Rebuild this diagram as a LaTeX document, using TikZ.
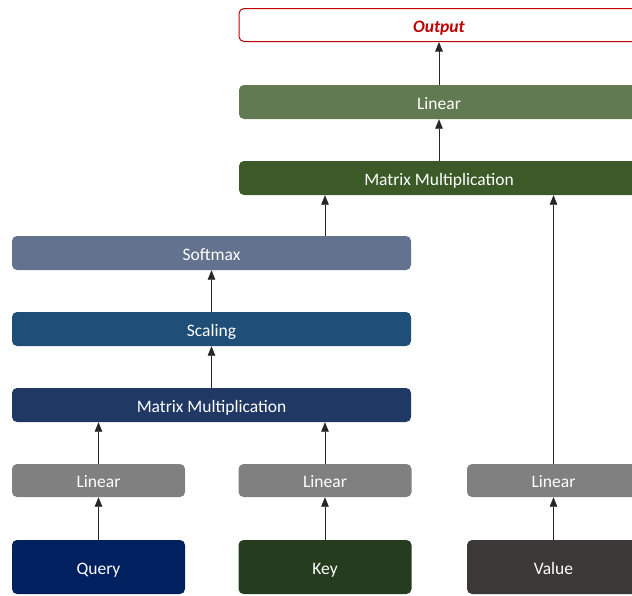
\documentclass[tikz,border=0pt]{standalone}
\usepackage{fontspec}
\setmainfont{Carlito}
\usetikzlibrary{arrows.meta}
\definecolor{cout}{HTML}{C00000}
\definecolor{clin}{HTML}{627A52}
\definecolor{cmmg}{HTML}{3B5A28}
\definecolor{csoft}{HTML}{63728F}
\definecolor{cscale}{HTML}{1F4E79}
\definecolor{cmmb}{HTML}{203864}
\definecolor{cgray}{HTML}{808080}
\definecolor{cquery}{HTML}{002060}
\definecolor{ckey}{HTML}{263C1E}
\definecolor{cvalue}{HTML}{3B3838}
\tikzset{
  blk/.style={rounded corners=5pt, draw=none, text=white, font=\fontsize{17.5}{20}\selectfont, inner sep=0pt, minimum height=34pt, text height=15pt, text depth=1pt},
  wide/.style={blk, minimum width=400pt},
  small/.style={blk, minimum width=173pt, minimum height=33pt},
  inp/.style={blk, minimum width=173pt, minimum height=54pt},
  arr/.style={draw=black!85, line width=0.8pt, -{Triangle[width=7.5pt,length=9.5pt]}}
}
\begin{document}
\begin{tikzpicture}[x=1pt,y=1pt]
\useasboundingbox (0,0) rectangle (632,-595);
\clip (0,0) rectangle (632,-595);
\node[wide, fill=white, draw=cout, line width=1pt, text=cout, font=\fontsize{17.5}{20}\selectfont\bfseries\itshape, minimum height=33pt] (out) at (439,-25) {Output};
\node[wide, fill=clin] (lin) at (439,-102) {Linear};
\node[wide, fill=cmmg] (mm2) at (439,-178) {Matrix Multiplication};
\node[wide, fill=csoft, minimum width=399pt] (soft) at (211.5,-253) {Softmax};
\node[wide, fill=cscale, minimum width=399pt] (scale) at (211.5,-329) {Scaling};
\node[wide, fill=cmmb, minimum width=399pt] (mm1) at (211.5,-405) {Matrix Multiplication};
\node[small, fill=cgray] (lq) at (98.5,-480.5) {Linear};
\node[small, fill=cgray] (lk) at (325,-480.5) {Linear};
\node[small, fill=cgray] (lv) at (553.5,-480.5) {Linear};
\node[inp, fill=cquery] (q) at (98.5,-567) {Query};
\node[inp, fill=ckey] (k) at (325,-567) {Key};
\node[inp, fill=cvalue] (v) at (553.5,-567) {Value};
\draw[arr] (q) -- (lq);
\draw[arr] (k) -- (lk);
\draw[arr] (v) -- (lv);
\draw[arr] (lq) -- (lq |- mm1.south);
\draw[arr] (lk) -- (lk |- mm1.south);
\draw[arr] (mm1) -- (scale);
\draw[arr] (scale) -- (soft);
\draw[arr] (soft.north -| lk) -- (lk |- mm2.south);
\draw[arr] (lv) -- (lv |- mm2.south);
\draw[arr] (mm2) -- (lin);
\draw[arr] (lin) -- (out);
\end{tikzpicture}
\end{document}
